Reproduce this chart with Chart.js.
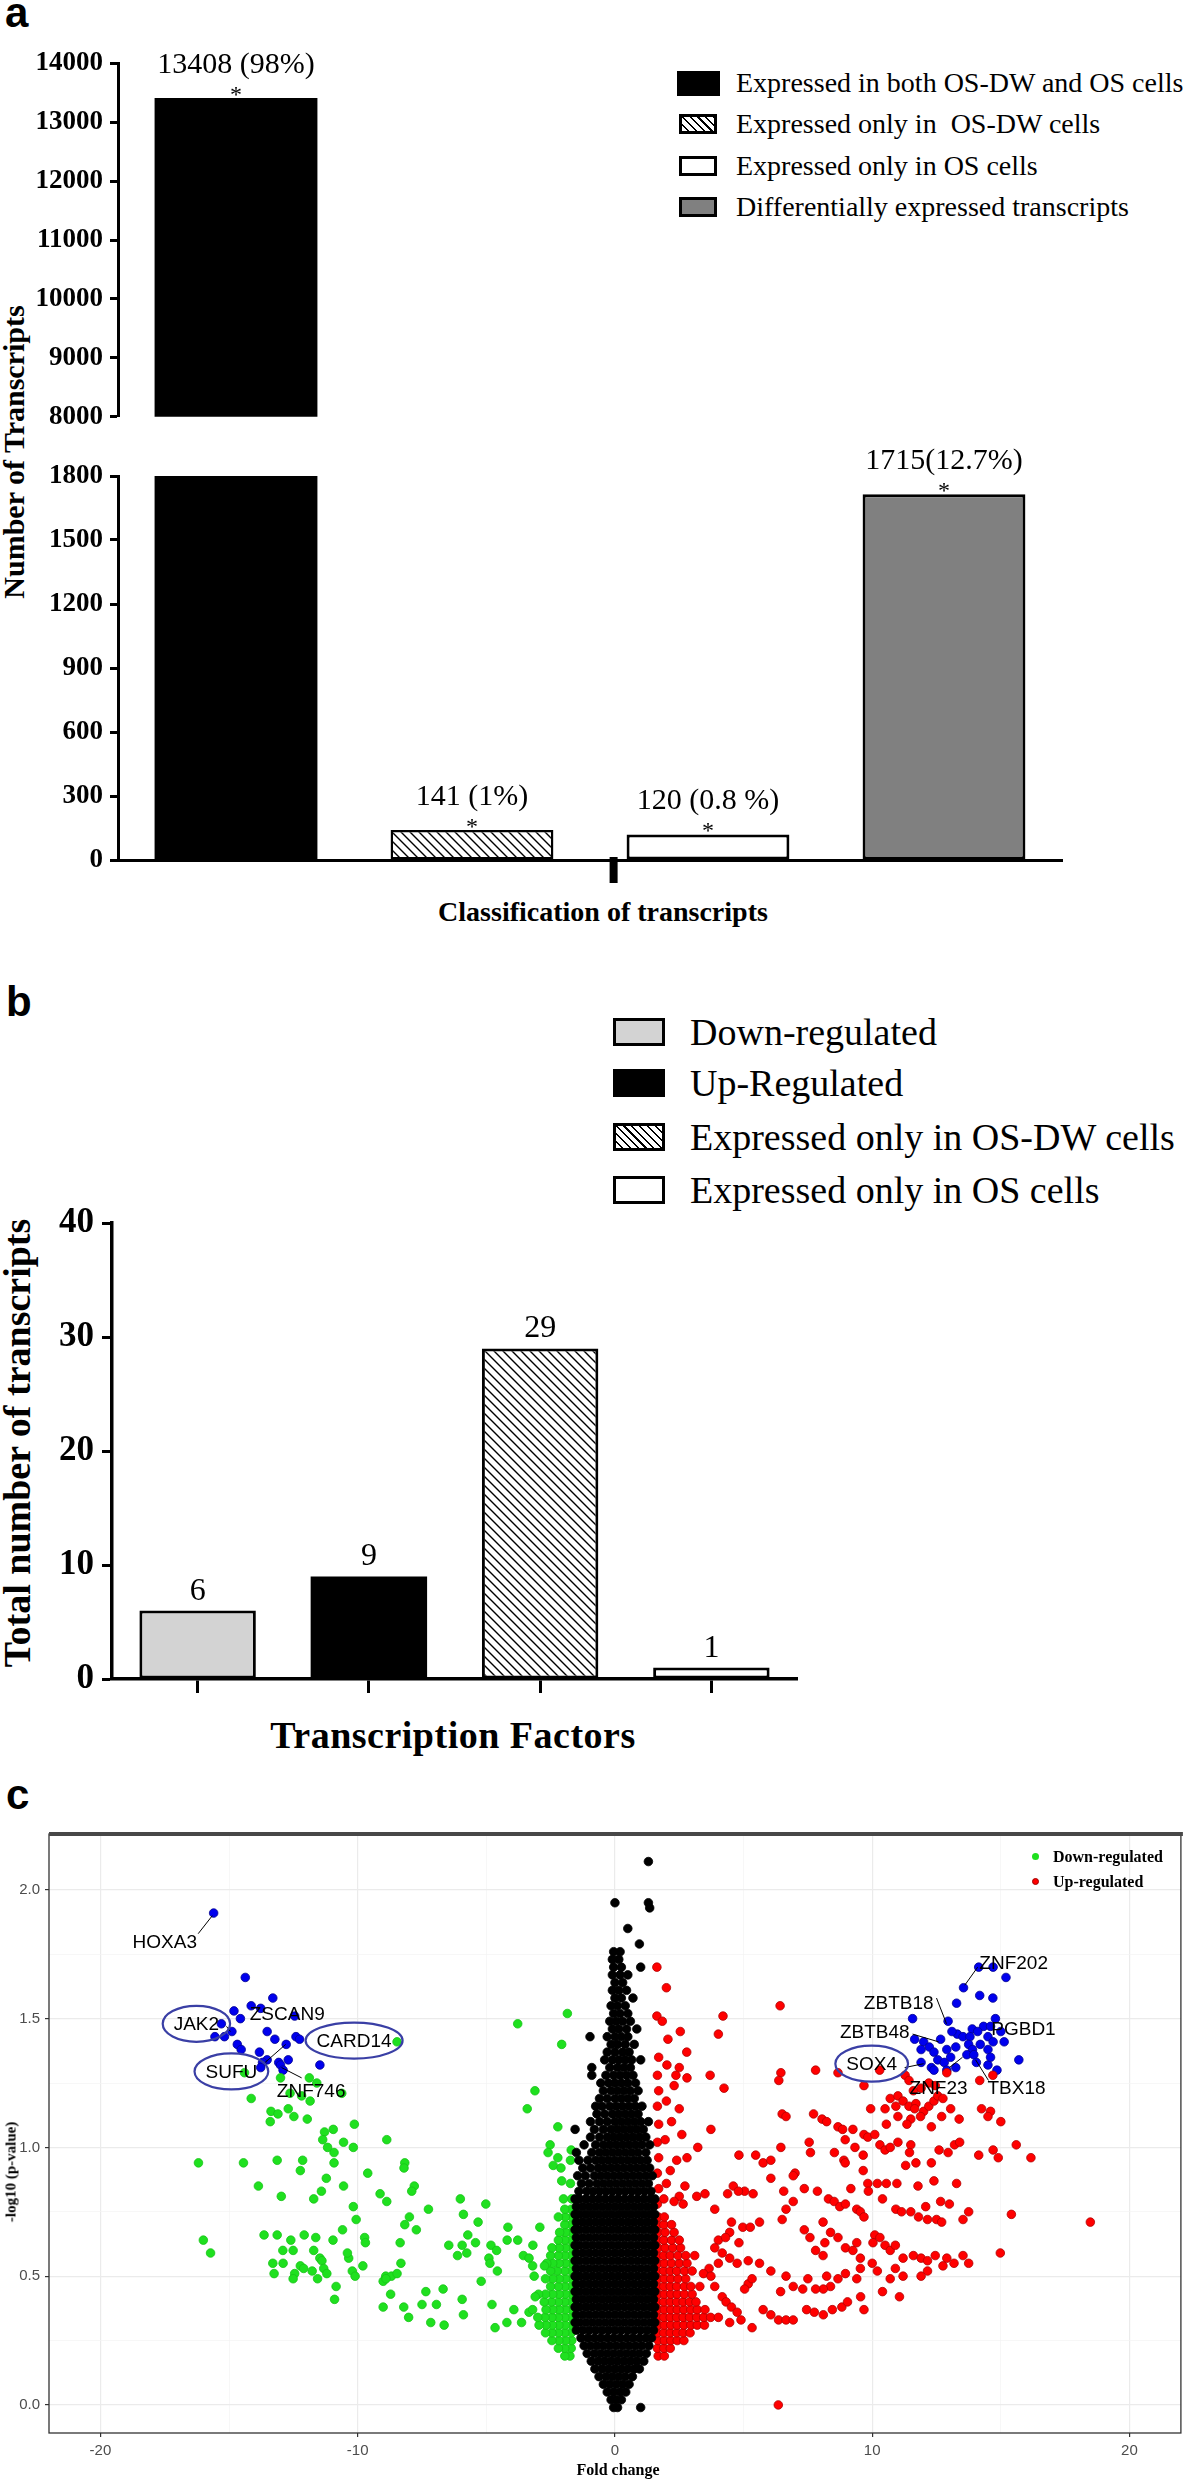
<!DOCTYPE html>
<html lang="en">
<head>
<meta charset="UTF-8">
<title>Transcript classification and volcano plot</title>
<script src="https://cdn.jsdelivr.net/npm/chart.js"></script>
<style>
  html, body { margin: 0; padding: 0; background: #fff; }
  body { position: relative; width: 1186px; height: 2481px; overflow: hidden;
         font-family: "Liberation Serif", "Times New Roman", serif; color: #000; }
  canvas { position: absolute; left: 0; }
  .t { position: absolute; white-space: pre; line-height: 1; }
  .letter { font-family: "Liberation Sans", Arial, sans-serif; font-weight: bold; font-size: 42px; }
  .vtitle { transform: translate(-50%, -50%) rotate(-90deg); font-weight: bold; }
  .ctr { transform: translate(-50%, -50%); }
  .key { position: absolute; box-sizing: border-box; }
  .hatch { background: repeating-linear-gradient(45deg, #fff 0 4px, #000 4px 5.5px); }
  .dot { position: absolute; width: 7px; height: 7px; border-radius: 50%; }
</style>
</head>
<body>
  <!-- panel a -->
  <div class="t letter" style="left:5px;top:-8px">a</div>
  <div class="t vtitle" style="left:14px;top:452px;font-size:30px">Number of Transcripts</div>
  <div class="t ctr" style="left:603px;top:912px;font-size:28px;font-weight:bold">Classification of transcripts</div>

  <div class="key" style="left:677px;top:71px;width:43px;height:25px;background:#000"></div>
  <div class="key hatch" style="left:679px;top:114px;width:38px;height:20px;border:3px solid #000"></div>
  <div class="key" style="left:679px;top:156px;width:38px;height:20px;border:3px solid #000;background:#fff"></div>
  <div class="key" style="left:679px;top:197px;width:38px;height:20px;border:3px solid #000;background:#808080"></div>
  <div class="t" id="legA0" style="left:736px;top:69px;font-size:28px"></div>
  <div class="t" id="legA1" style="left:736px;top:110px;font-size:28px"></div>
  <div class="t" id="legA2" style="left:736px;top:152px;font-size:28px"></div>
  <div class="t" id="legA3" style="left:736px;top:193px;font-size:28px"></div>

  <canvas id="aTop" width="1186" height="400" style="top:40px"></canvas>
  <canvas id="aBottom" width="1186" height="500" style="top:440px"></canvas>

  <!-- panel b -->
  <div class="t letter" style="left:6px;top:981px">b</div>
  <div class="t vtitle" style="left:17px;top:1443px;font-size:38px">Total number of transcripts</div>
  <div class="t ctr" style="left:453px;top:1735px;font-size:38px;font-weight:bold;letter-spacing:0.5px">Transcription Factors</div>

  <div class="key" style="left:613px;top:1018px;width:52px;height:28px;border:3px solid #000;background:#d3d3d3"></div>
  <div class="key" style="left:613px;top:1069px;width:52px;height:28px;background:#000"></div>
  <div class="key hatch" style="left:613px;top:1123px;width:52px;height:28px;border:3px solid #000"></div>
  <div class="key" style="left:613px;top:1176px;width:52px;height:28px;border:3px solid #000;background:#fff"></div>
  <div class="t" id="legB0" style="left:690px;top:1013px;font-size:38px"></div>
  <div class="t" id="legB1" style="left:690px;top:1064px;font-size:38px"></div>
  <div class="t" id="legB2" style="left:690px;top:1118px;font-size:38px"></div>
  <div class="t" id="legB3" style="left:690px;top:1171px;font-size:38px"></div>

  <canvas id="bChart" width="1186" height="560" style="top:1190px"></canvas>

  <!-- panel c -->
  <div class="t letter" style="left:6px;top:1774px">c</div>
  <canvas id="cChart" width="1186" height="661" style="top:1820px"></canvas>
  <div class="t vtitle" style="left:11px;top:2172px;font-size:15px">-log10 (p-value)</div>
  <div class="t ctr" style="left:618px;top:2470px;font-size:16px;font-weight:bold">Fold change</div>
  <div class="dot" style="left:1032px;top:1853px;background:#1fe01f"></div>
  <div class="dot" style="left:1032px;top:1878px;background:#ff0000;border:1px solid #a00000;box-sizing:border-box"></div>
  <div class="t" style="left:1053px;top:1849px;font-size:16px;font-weight:bold">Down-regulated</div>
  <div class="t" style="left:1053px;top:1874px;font-size:16px;font-weight:bold">Up-regulated</div>

<script>
// ---------- data: panel a ----------
const classCategories = ['Expressed in both OS-DW and OS cells', 'Expressed only in  OS-DW cells',
                         'Expressed only in OS cells', 'Differentially expressed transcripts'];
const classCounts = [13408, 141, 120, 1715];
const classLabels = ['13408 (98%)', '141 (1%)', '120 (0.8 %)', '1715(12.7%)'];
const aUpperTicks = [8000, 14000, 1000];   // min, max, step above the break
const aLowerTicks = [0, 1800, 300];        // min, max, step below the break

// ---------- data: panel b ----------
const tfCategories = ['Down-regulated', 'Up-Regulated', 'Expressed only in OS-DW cells', 'Expressed only in OS cells'];
const tfCounts = [6, 9, 29, 1];
const bTicks = [0, 40, 10];

// ---------- data: panel c (fold change, -log10 p) ----------
const cXTicks = [-22, 22, 5];
const cYTicks = [-0.109, 2.217, 0.25];

// not significant, listed row by row: [-log10 p, [fold changes]]
const nsWideA = [-1.5, -1.25, -1.0, -0.75, -0.5, -0.25, 0.0, 0.25, 0.5, 0.75, 1.0, 1.25, 1.5];
const nsWideB = [-1.55, -1.375, -1.125, -0.875, -0.625, -0.375, -0.125, 0.125, 0.375, 0.625, 0.875, 1.125, 1.375, 1.55];
const nsRows = [
  [-0.01, [-0.05, 0.1, 1.0]],
  [0.02, [-0.15, 0.05, 0.25]],
  [0.05, [-0.3, -0.05, 0.2, 0.42]],
  [0.08, [-0.45, -0.2, 0.05, 0.3, 0.55]],
  [0.11, [-0.62, -0.35, -0.1, 0.15, 0.4, 0.68]],
  [0.14, [-0.78, -0.5, -0.25, 0.0, 0.25, 0.5, 0.75, 0.95]],
  [0.17, [-0.92, -0.65, -0.4, -0.15, 0.1, 0.35, 0.6, 0.85, 1.12]],
  [0.20, [-1.08, -0.8, -0.55, -0.3, -0.05, 0.2, 0.45, 0.7, 0.95, 1.22]],
  [0.23, [-1.2, -0.95, -0.7, -0.45, -0.2, 0.05, 0.3, 0.55, 0.8, 1.05, 1.32]],
  [0.26, [-1.32, -1.05, -0.8, -0.55, -0.3, -0.05, 0.2, 0.45, 0.7, 0.95, 1.2, 1.42]],
  [0.29, nsWideA], [0.32, nsWideB], [0.35, nsWideA], [0.38, nsWideB], [0.41, nsWideA], [0.44, nsWideB],
  [0.47, nsWideA], [0.50, nsWideB], [0.53, nsWideA], [0.56, nsWideB], [0.59, nsWideA], [0.62, nsWideB],
  [0.65, nsWideA], [0.68, nsWideB], [0.71, nsWideA], [0.74, nsWideB], [0.77, nsWideA], [0.80, nsWideB],
  [0.83, [-1.4, -1.1, -0.85, -0.6, -0.35, -0.1, 0.15, 0.4, 0.65, 0.9, 1.15, 1.4]],
  [0.86, [-1.3, -1.0, -0.7, -0.45, -0.2, 0.05, 0.3, 0.55, 0.8, 1.05, 1.3]],
  [0.89, [-1.45, -1.15, -0.8, -0.55, -0.3, -0.05, 0.2, 0.45, 0.7, 0.95, 1.2, 1.45]],
  [0.92, [-1.25, -0.95, -0.65, -0.4, -0.15, 0.1, 0.35, 0.6, 0.85, 1.1, 1.35]],
  [0.95, [-1.4, -1.05, -0.75, -0.5, -0.25, 0.0, 0.25, 0.5, 0.75, 1.0, 1.25]],
  [0.98, [-1.5, -0.9, -0.6, -0.35, -0.1, 0.15, 0.4, 0.65, 0.9, 1.2]],
  [1.01, [-1.2, -0.75, -0.45, -0.2, 0.05, 0.3, 0.55, 0.8, 1.05, 1.35]],
  [1.04, [-0.95, -0.6, -0.3, -0.05, 0.2, 0.45, 0.7, 0.95, 1.2]],
  [1.07, [-1.55, -0.8, -0.45, -0.15, 0.1, 0.35, 0.6, 0.85, 1.1]],
  [1.10, [-0.95, -0.6, -0.3, 0.0, 0.25, 0.5, 0.75, 1.0, 1.3]],
  [1.13, [-0.7, -0.4, -0.1, 0.15, 0.4, 0.65, 0.9]],
  [1.16, [-0.75, -0.5, -0.2, 0.05, 0.3, 0.55, 0.8, 1.05]],
  [1.19, [-0.6, -0.3, 0.0, 0.25, 0.5, 0.75]],
  [1.22, [-0.45, -0.15, 0.1, 0.35, 0.6, 0.9]],
  [1.25, [-0.55, -0.25, 0.0, 0.25, 0.5, 0.8]],
  [1.28, [-0.9, -0.35, -0.05, 0.2, 0.45, 0.7]],
  [1.31, [-0.9, -0.2, 0.1, 0.35, 0.6]],
  [1.34, [-0.4, -0.1, 0.15, 0.4, 0.65, 1.0]],
  [1.37, [-0.3, 0.0, 0.3, 0.55]],
  [1.40, [-0.15, 0.1, 0.4, 0.75]],
  [1.43, [-0.97, -0.3, 0.0, 0.25, 0.5]],
  [1.46, [-0.1, 0.15, 0.45, 0.85]],
  [1.49, [-0.2, 0.05, 0.3, 0.6]],
  [1.52, [-0.05, 0.2, 0.5]],
  [1.55, [-0.15, 0.1, 0.4]],
  [1.58, [0.0, 0.25, 0.7]],
  [1.61, [-0.1, 0.15, 0.45]],
  [1.64, [0.0, 0.3]],
  [1.67, [-0.1, 0.2, 0.5]],
  [1.70, [-0.05, 0.25, 1.0]],
  [1.73, [-0.1, 0.15]],
  [1.76, [-0.05, 0.2]],
  [1.79, [0.95]],
  [1.85, [0.5]],
  [1.93, [1.35]],
  [1.95, [0.0, 1.3]],
  [2.11, [1.3]]
];

// down-regulated: dense band next to the centre, then scattered points
const downBandRows = [
  [0.19, [-1.75, -1.95]],
  [0.22, [-1.7, -1.95, -2.2]],
  [0.25, [-1.68, -1.92, -2.18, -2.45]],
  [0.28, [-1.7, -1.95, -2.2, -2.45, -2.7]],
  [0.31, [-1.68, -1.93, -2.18, -2.43, -2.68, -2.95]],
  [0.34, [-1.7, -1.95, -2.2, -2.45, -2.72, -3.0]],
  [0.37, [-1.68, -1.92, -2.17, -2.42, -2.68]],
  [0.40, [-1.7, -1.95, -2.2, -2.47, -2.75]],
  [0.43, [-1.68, -1.92, -2.17, -2.42, -2.7, -2.97]],
  [0.46, [-1.7, -1.95, -2.2, -2.5]],
  [0.49, [-1.68, -1.92, -2.17, -2.42, -2.7]],
  [0.52, [-1.7, -1.95, -2.25, -2.5]],
  [0.55, [-1.68, -1.92, -2.17, -2.42, -2.65]],
  [0.58, [-1.7, -1.95, -2.2, -2.5]],
  [0.61, [-1.68, -1.92, -2.17, -2.45]],
  [0.64, [-1.7, -1.95, -2.2]],
  [0.67, [-1.68, -1.92, -2.15]],
  [0.70, [-1.7, -1.95]],
  [0.73, [-1.68, -1.93, -2.2]],
  [0.76, [-1.7, -1.95]],
  [0.80, [-1.68, -2.0]]
];
const downPts = [
  [-8.47, 1.41], [-3.78, 1.48], [-1.85, 1.52], [-2.07, 1.40], [-3.11, 1.22], [-3.41, 1.15], [-2.22, 1.08],
  [-2.52, 1.01], [-1.7, 0.99], [-2.6, 0.98], [-2.22, 0.96], [-2.4, 0.93], [-2.1, 0.92], [-1.73, 0.95],
  [-2.07, 0.87], [-1.73, 0.86],
  [-14.4, 1.29], [-13.0, 1.27], [-11.88, 1.27], [-11.59, 1.25], [-12.63, 1.21], [-12.18, 1.20], [-11.85, 1.18],
  [-10.62, 1.21], [-14.14, 1.19], [-13.37, 1.14], [-12.7, 1.15], [-13.1, 1.13], [-13.4, 1.10], [-12.48, 1.12],
  [-11.96, 1.11], [-11.29, 1.06], [-10.95, 1.07], [-10.13, 1.09], [-11.36, 1.03], [-11.17, 1.0], [-10.92, 0.98],
  [-10.55, 1.02], [-10.17, 1.0], [-8.87, 1.03],
  [-16.19, 0.94], [-14.44, 0.94], [-13.13, 0.95], [-12.14, 0.95], [-10.92, 0.94], [-12.23, 0.91], [-11.22, 0.88],
  [-9.61, 0.9], [-8.17, 0.94], [-8.2, 0.92], [-13.86, 0.85], [-11.41, 0.83], [-10.55, 0.85], [-7.8, 0.85],
  [-7.9, 0.83], [-9.13, 0.82], [-12.97, 0.81], [-11.71, 0.8], [-8.87, 0.79], [-6.01, 0.8], [-5.02, 0.78],
  [-10.17, 0.77], [-7.25, 0.76], [-10.06, 0.72], [-7.99, 0.73], [-5.89, 0.74], [-5.32, 0.71], [-4.16, 0.69],
  [-2.92, 0.69], [-8.17, 0.7], [-7.72, 0.68], [-10.59, 0.68], [-13.64, 0.66], [-13.13, 0.66], [-16.0, 0.64],
  [-12.08, 0.66], [-12.6, 0.64], [-11.63, 0.65], [-10.96, 0.64], [-9.73, 0.65], [-9.7, 0.63], [-8.35, 0.63],
  [-5.72, 0.66], [-6.46, 0.62], [-5.94, 0.62], [-5.42, 0.63], [-4.82, 0.62], [-4.6, 0.6], [-4.19, 0.64],
  [-3.78, 0.64], [-3.56, 0.58], [-3.19, 0.62],
  [-12.91, 0.6], [-12.51, 0.6], [-11.71, 0.6], [-11.47, 0.57], [-10.35, 0.57], [-10.4, 0.59], [-15.72, 0.59],
  [-6.12, 0.58], [-5.76, 0.59], [-4.9, 0.57], [-4.86, 0.55], [-4.57, 0.52], [-3.34, 0.57], [-3.2, 0.54],
  [-2.74, 0.54],
  [-13.3, 0.55], [-12.9, 0.55], [-13.25, 0.51], [-12.45, 0.51], [-12.23, 0.54], [-12.1, 0.53], [-11.77, 0.52],
  [-11.39, 0.56], [-11.32, 0.53], [-11.2, 0.51], [-11.56, 0.49], [-9.8, 0.54], [-10.21, 0.52], [-10.1, 0.5],
  [-12.51, 0.49], [-8.91, 0.5], [-8.69, 0.5], [-8.47, 0.51], [-9.01, 0.48], [-8.9, 0.49], [-10.84, 0.46],
  [-10.9, 0.41], [-8.72, 0.43], [-9.01, 0.38], [-8.32, 0.55], [-8.21, 0.38], [-8.02, 0.34], [-7.5, 0.39],
  [-7.35, 0.44], [-7.16, 0.32], [-6.94, 0.39], [-6.68, 0.45], [-6.64, 0.31], [-5.94, 0.41], [-5.89, 0.35],
  [-5.2, 0.48], [-4.78, 0.39], [-4.66, 0.3], [-4.2, 0.32], [-3.93, 0.37], [-3.63, 0.32], [-3.34, 0.36],
  [-3.14, 0.5], [-3.1, 0.42], [-3.2, 0.37]
];

// up-regulated: dense band next to the centre, then scattered points
const upBandRows = [
  [0.19, [1.68, 1.92]],
  [0.22, [1.65, 1.9, 2.15]],
  [0.25, [1.68, 1.92, 2.17, 2.42, 2.68]],
  [0.28, [1.65, 1.9, 2.15, 2.4, 2.65, 2.92]],
  [0.31, [1.68, 1.92, 2.17, 2.42, 2.68, 2.95, 3.2, 3.48]],
  [0.34, [1.65, 1.9, 2.15, 2.4, 2.65, 2.9, 3.18, 3.45, 3.72]],
  [0.37, [1.68, 1.92, 2.17, 2.42, 2.68, 2.95, 3.2, 3.5]],
  [0.40, [1.65, 1.9, 2.15, 2.4, 2.65, 2.9, 3.15]],
  [0.43, [1.68, 1.92, 2.17, 2.42, 2.7, 3.0]],
  [0.46, [1.65, 1.9, 2.15, 2.4, 2.7, 2.95, 3.3]],
  [0.49, [1.68, 1.92, 2.17, 2.45, 2.75]],
  [0.52, [1.65, 1.9, 2.15, 2.4, 2.7, 3.0]],
  [0.55, [1.68, 1.92, 2.2, 2.5, 2.8]],
  [0.58, [1.65, 1.9, 2.15, 2.45, 2.75, 3.1]],
  [0.61, [1.68, 1.95, 2.25, 2.55]],
  [0.64, [1.65, 1.9, 2.2, 2.5]],
  [0.67, [1.68, 1.95, 2.3]],
  [0.70, [1.65, 1.9, 2.2]],
  [0.73, [1.68, 1.92]]
];
const upPts = [
  [6.42, 1.55], [4.2, 1.51], [1.63, 1.51], [1.84, 1.49], [4.02, 1.44], [2.54, 1.45], [2.06, 1.42], [2.79, 1.37],
  [2.02, 1.32], [2.5, 1.31], [2.8, 1.27], [2.37, 1.28], [3.7, 1.28], [4.24, 1.23], [6.45, 1.29], [6.37, 1.26],
  [7.8, 1.3], [8.67, 1.29], [9.68, 1.24], [10.29, 1.3], [11.28, 1.28], [11.43, 1.26],
  [10.7, 1.19], [11.0, 1.2], [11.6, 1.22], [11.9, 1.23], [12.2, 1.25], [12.45, 1.24], [12.9, 1.29], [14.18, 1.26],
  [14.69, 1.28],
  [9.94, 1.15], [10.5, 1.15], [10.92, 1.16], [11.2, 1.18], [11.43, 1.16], [11.7, 1.17], [11.65, 1.15], [12.0, 1.14],
  [12.2, 1.16], [12.4, 1.18], [12.55, 1.2], [12.75, 1.19], [13.05, 1.15], [13.38, 1.11], [12.7, 1.12], [12.3, 1.08],
  [11.88, 1.12], [11.5, 1.11], [11.35, 1.09], [11.0, 1.12], [14.25, 1.15], [14.6, 1.14], [14.5, 1.12], [15.0, 1.1],
  [6.5, 1.13], [6.65, 1.12], [7.72, 1.13], [8.05, 1.11], [8.23, 1.1], [8.67, 1.08], [9.25, 1.07], [8.85, 1.07],
  [9.68, 1.05], [9.83, 1.04], [10.1, 1.05], [10.55, 1.09], [3.73, 1.07],
  [3.22, 1.0], [2.8, 0.96], [4.82, 0.97], [5.47, 0.97], [6.45, 1.0], [7.55, 1.02], [7.6, 0.98], [8.53, 0.98],
  [8.9, 0.95], [8.95, 0.94], [9.65, 0.97], [9.65, 0.91], [9.33, 1.0], [8.95, 1.03], [10.3, 1.01], [10.5, 0.99],
  [10.7, 1.0], [11.0, 1.02], [11.5, 1.01], [11.45, 0.98], [11.7, 0.94], [11.3, 0.93], [12.3, 0.94], [12.6, 0.99],
  [12.95, 0.98], [13.2, 1.01], [13.4, 1.02], [14.14, 0.97], [14.7, 0.99], [14.9, 0.96], [15.6, 1.01], [16.17, 0.96],
  [5.76, 0.94], [6.06, 0.95], [6.06, 0.88], [7.0, 0.9], [6.93, 0.89], [7.36, 0.84], [7.87, 0.83], [6.56, 0.83],
  [5.37, 0.82], [5.04, 0.83], [4.6, 0.85], [4.38, 0.82], [4.8, 0.83], [3.88, 0.76], [3.5, 0.82], [3.18, 0.81],
  [2.5, 0.81], [2.65, 0.78], [2.72, 0.85],
  [9.17, 0.84], [9.83, 0.86], [10.2, 0.86], [10.55, 0.86], [10.96, 0.86], [11.78, 0.85], [12.4, 0.87], [13.28, 0.86],
  [9.85, 0.83], [10.4, 0.8], [8.3, 0.8], [8.52, 0.79], [8.74, 0.77], [8.96, 0.78], [9.4, 0.76], [9.54, 0.75],
  [9.68, 0.73],
  [10.92, 0.76], [11.14, 0.75], [11.5, 0.75], [11.8, 0.73], [12.15, 0.72], [12.5, 0.72], [12.7, 0.71], [12.08, 0.77],
  [12.66, 0.79], [13.0, 0.78], [13.75, 0.75], [13.53, 0.72], [15.41, 0.74], [18.48, 0.71], [14.98, 0.59],
  [13.75, 0.55], [13.53, 0.58],
  [6.93, 0.79], [6.65, 0.76], [6.5, 0.72], [4.53, 0.71], [4.97, 0.69], [5.26, 0.69], [5.62, 0.71], [4.46, 0.67],
  [4.82, 0.63], [4.02, 0.64], [4.3, 0.65], [3.88, 0.61], [7.36, 0.68], [7.58, 0.65], [8.09, 0.71], [8.38, 0.67],
  [8.16, 0.63], [7.8, 0.6], [8.09, 0.58], [8.67, 0.65], [8.96, 0.61], [9.25, 0.6], [9.54, 0.57], [9.4, 0.63],
  [10.1, 0.66], [10.3, 0.65], [10.03, 0.63], [10.5, 0.62], [10.7, 0.6], [10.9, 0.62], [11.2, 0.57], [11.6, 0.58],
  [11.9, 0.57], [12.15, 0.56], [12.45, 0.58], [12.9, 0.57], [13.18, 0.55], [12.75, 0.54], [12.15, 0.52], [11.9, 0.5],
  [10.9, 0.53], [11.2, 0.5], [10.7, 0.49], [10.2, 0.52], [10.0, 0.55], [9.54, 0.53], [9.4, 0.49], [8.96, 0.51],
  [8.67, 0.49], [8.23, 0.5], [8.38, 0.46], [8.1, 0.45], [7.5, 0.49], [7.3, 0.45], [7.8, 0.45], [6.65, 0.5],
  [6.93, 0.46], [6.44, 0.44], [6.06, 0.52], [5.62, 0.55], [5.18, 0.56],
  [4.75, 0.55], [5.18, 0.47], [5.33, 0.49], [5.04, 0.45], [4.46, 0.57], [4.17, 0.59], [4.02, 0.55], [3.66, 0.53],
  [3.44, 0.51], [3.73, 0.5], [3.88, 0.46], [4.17, 0.42], [4.32, 0.4], [4.53, 0.38], [4.75, 0.36], [4.9, 0.33],
  [4.46, 0.32], [4.02, 0.34],
  [5.33, 0.3], [5.76, 0.37], [6.06, 0.35], [6.36, 0.33], [6.65, 0.33], [6.93, 0.33], [7.45, 0.37], [7.75, 0.36],
  [8.1, 0.35], [8.45, 0.37], [8.82, 0.38], [9.04, 0.4], [9.55, 0.42], [9.68, 0.37], [10.4, 0.44], [11.06, 0.42],
  [6.35, 0.0], [1.63, 1.70], [2.0, 1.62],
  [1.65, 0.78], [1.9, 0.8], [2.3, 0.79], [1.7, 0.84], [2.0, 0.86], [1.65, 0.9], [2.15, 0.91], [1.7, 0.96],
  [2.4, 0.95], [1.65, 1.02], [1.95, 1.03], [2.6, 1.05], [1.7, 1.09], [2.2, 1.1], [1.65, 1.16], [2.0, 1.18],
  [2.5, 1.15], [1.7, 1.22], [2.3, 1.24], [1.65, 1.28], [1.7, 1.35]
];

// transcription factors (blue)
const tfPts = [
  [-15.6, 1.91], [-14.37, 1.66],
  [-13.3, 1.58], [-14.81, 1.53], [-14.14, 1.55], [-13.77, 1.54], [-14.56, 1.5], [-15.3, 1.48], [-12.45, 1.51],
  [-14.89, 1.45], [-13.52, 1.45], [-15.55, 1.43], [-15.18, 1.43], [-12.4, 1.43], [-12.26, 1.42], [-13.22, 1.42],
  [-14.68, 1.4], [-12.78, 1.4], [-14.53, 1.38], [-13.82, 1.37], [-13.52, 1.34], [-12.7, 1.34], [-13.7, 1.33],
  [-13.07, 1.33], [-13.0, 1.32], [-13.77, 1.31], [-11.47, 1.32], [-12.9, 1.30],
  [13.55, 1.62], [14.14, 1.70], [14.7, 1.70], [15.2, 1.66],
  [13.28, 1.56], [14.18, 1.59], [14.69, 1.58], [11.57, 1.5], [14.79, 1.5], [12.95, 1.49], [14.33, 1.47],
  [13.89, 1.46], [13.31, 1.44], [13.1, 1.45], [13.53, 1.43], [13.8, 1.43], [14.1, 1.45], [14.6, 1.47],
  [14.5, 1.43], [15.0, 1.45], [12.66, 1.42], [12.0, 1.41], [11.65, 1.42], [15.13, 1.41], [14.7, 1.41],
  [14.2, 1.4], [13.75, 1.4], [13.25, 1.39], [12.22, 1.39], [12.9, 1.38], [13.9, 1.38], [11.9, 1.38], [12.4, 1.37],
  [14.5, 1.38], [15.7, 1.34], [11.9, 1.33], [12.55, 1.34], [12.8, 1.33], [13.05, 1.35], [13.68, 1.36],
  [13.95, 1.36], [14.05, 1.33], [14.5, 1.32], [14.85, 1.3], [12.3, 1.31], [12.9, 1.3], [13.25, 1.31],
  [12.4, 1.3], [14.6, 1.35]
];

// gene names: [name, x, y, circled, leader line x1, y1, x2, y2]
const geneTags = [
  ['HOXA3', -17.5, 1.80, false, [-16.2, 1.83, -15.65, 1.9]],
  ['ZSCAN9', -12.74, 1.52, false, null],
  ['JAK2', -16.27, 1.48, true, [-15.1, 1.47, -14.95, 1.45]],
  ['CARD14', -10.14, 1.415, true, null],
  ['SUFU', -14.91, 1.295, true, [-13.6, 1.33, -12.8, 1.4]],
  ['ZNF746', -11.81, 1.22, false, [-12.96, 1.31, -12.18, 1.27]],
  ['ZNF202', 15.5, 1.717, false, [13.6, 1.63, 14.1, 1.7]],
  ['ZBTB18', 11.03, 1.56, false, [12.5, 1.58, 12.89, 1.48]],
  ['PGBD1', 15.88, 1.46, false, null],
  ['ZBTB48', 10.1, 1.45, false, [11.57, 1.44, 12.58, 1.41]],
  ['SOX4', 9.98, 1.325, true, [11.26, 1.31, 12.0, 1.325]],
  ['ZNF23', 12.58, 1.23, false, [13.0, 1.31, 13.51, 1.35]],
  ['TBX18', 15.61, 1.23, false, [14.52, 1.26, 14.02, 1.34]]
];

// ---------- helpers ----------
const serif = '"Liberation Serif", "Times New Roman", serif';
const sans = '"Liberation Sans", Arial, sans-serif';
Chart.defaults.font.family = serif;

classCategories.forEach((c, i) => { document.getElementById('legA' + i).textContent = c; });
tfCategories.forEach((c, i) => { document.getElementById('legB' + i).textContent = c; });

function hatch(s) {
  const c = document.createElement('canvas');
  c.width = c.height = s;
  const g = c.getContext('2d');
  g.fillStyle = '#fff';
  g.fillRect(0, 0, s, s);
  g.strokeStyle = '#000';
  g.lineWidth = 1.4;
  g.beginPath();
  g.moveTo(0, 0); g.lineTo(s, s);
  g.moveTo(s - 2, -2); g.lineTo(s + 2, 2);
  g.moveTo(-2, s - 2); g.lineTo(2, s + 2);
  g.stroke();
  return g.createPattern(c, 'repeat');
}

const rowsToPoints = rows => rows.flatMap(([y, xs]) => xs.map(x => ({ x, y })));
const pairsToPoints = pairs => pairs.map(([x, y]) => ({ x, y }));

// numbers and stars above bars
const barValueLabels = {
  id: 'barValueLabels',
  afterDatasetsDraw(chart, args, opts) {
    if (!opts.texts) return;
    const ctx = chart.ctx;
    const y = chart.scales.y;
    const values = chart.data.datasets[0].data;
    ctx.save();
    ctx.fillStyle = '#000';
    ctx.textAlign = 'center';
    ctx.textBaseline = 'alphabetic';
    chart.getDatasetMeta(0).data.forEach((bar, i) => {
      const v = values[i];
      if (v == null || v > y.max || v < y.min) return;
      ctx.font = opts.font;
      ctx.fillText(opts.texts[i], bar.x, bar.y - opts.gap);
      if (opts.star) {
        ctx.font = opts.starFont;
        ctx.fillText('*', bar.x, bar.y + opts.starGap);
      }
    });
    ctx.restore();
  }
};

// thick mark on the x axis of panel a
const axisBreak = {
  id: 'axisBreak',
  afterDraw(chart, args, opts) {
    if (opts.at == null) return;
    const x = chart.scales.x.getPixelForValue(opts.at);
    const b = chart.chartArea.bottom;
    chart.ctx.save();
    chart.ctx.fillStyle = '#000';
    chart.ctx.fillRect(x - 4, b - 3, 8, 26);
    chart.ctx.restore();
  }
};

// gene names, circles and leader lines
const geneLabelPlugin = {
  id: 'geneLabels',
  afterDatasetsDraw(chart, args, opts) {
    if (!opts.tags) return;
    const { ctx, scales: { x, y } } = chart;
    ctx.save();
    ctx.font = '19px ' + sans;
    ctx.textAlign = 'center';
    ctx.textBaseline = 'middle';
    opts.tags.forEach(([name, tx, ty, circled, lead]) => {
      if (lead) {
        ctx.strokeStyle = '#000';
        ctx.lineWidth = 1;
        ctx.beginPath();
        ctx.moveTo(x.getPixelForValue(lead[0]), y.getPixelForValue(lead[1]));
        ctx.lineTo(x.getPixelForValue(lead[2]), y.getPixelForValue(lead[3]));
        ctx.stroke();
      }
      const px = x.getPixelForValue(tx), py = y.getPixelForValue(ty);
      ctx.fillStyle = '#000';
      ctx.fillText(name, px, py + 1);
      if (circled) {
        const w = ctx.measureText(name).width;
        ctx.strokeStyle = '#3a3fa5';
        ctx.lineWidth = 2.2;
        ctx.beginPath();
        ctx.ellipse(px, py, w / 2 + 11, 18, 0, 0, Math.PI * 2);
        ctx.stroke();
      }
    });
    ctx.restore();
  }
};

// panel border (theme_bw style)
const panelFrame = {
  id: 'panelFrame',
  afterDraw(chart, args, opts) {
    if (!opts.on) return;
    const { ctx, chartArea: a } = chart;
    ctx.save();
    ctx.strokeStyle = '#333';
    ctx.lineWidth = 1.3;
    ctx.strokeRect(a.left, a.top, a.right - a.left, a.bottom - a.top);
    ctx.strokeStyle = '#484848';
    ctx.lineWidth = 4;
    ctx.beginPath();
    ctx.moveTo(a.left, a.top);
    ctx.lineTo(a.right + 2, a.top);
    ctx.stroke();
    ctx.restore();
  }
};

Chart.register(barValueLabels, axisBreak, geneLabelPlugin, panelFrame);

// ---------- panel a ----------
const classFills = ['#000', hatch(9), '#fff', '#808080'];
const classBorders = [0, 2.5, 3, 3];
const aTickFont = { family: serif, size: 27, weight: 'bold' };
const aLabelOpts = { texts: classLabels, font: '30px ' + serif, gap: 25, star: true, starFont: '24px ' + serif, starGap: 4 };

function aYAxis(range) {
  return {
    min: range[0], max: range[1],
    ticks: { stepSize: range[2], font: aTickFont, color: '#000', padding: 7, callback: v => String(v) },
    grid: { drawOnChartArea: false, drawTicks: true, tickLength: 8, tickWidth: 3, tickColor: '#000' },
    border: { display: true, color: '#000', width: 3 },
    afterFit: s => { s.width = 118; }
  };
}

new Chart(document.getElementById('aTop'), {
  type: 'bar',
  data: {
    labels: classCategories,
    datasets: [{
      data: classCounts.map(v => (v >= aUpperTicks[0] ? v : null)),
      backgroundColor: classFills, borderColor: '#000', borderWidth: classBorders,
      borderSkipped: false, barPercentage: 0.69, categoryPercentage: 1
    }]
  },
  options: {
    responsive: false, animation: false, events: [],
    layout: { padding: { top: 20, bottom: 12, left: 0, right: 124 } },
    plugins: { legend: { display: false }, tooltip: { enabled: false }, barValueLabels: aLabelOpts },
    scales: { x: { display: false }, y: aYAxis(aUpperTicks) }
  }
});

new Chart(document.getElementById('aBottom'), {
  type: 'bar',
  data: {
    labels: classCategories,
    datasets: [{
      data: classCounts,
      backgroundColor: classFills, borderColor: '#000', borderWidth: classBorders,
      borderSkipped: false, barPercentage: 0.69, categoryPercentage: 1
    }]
  },
  options: {
    responsive: false, animation: false, events: [],
    layout: { padding: { top: 36, bottom: 79, left: 0, right: 124 } },
    plugins: { legend: { display: false }, tooltip: { enabled: false }, barValueLabels: aLabelOpts, axisBreak: { at: 1.6 } },
    scales: {
      x: {
        grid: { display: false },
        ticks: { display: false },
        border: { display: true, color: '#000', width: 3 },
        afterFit: s => { s.height = 1; }
      },
      y: aYAxis(aLowerTicks)
    }
  }
});

// ---------- panel b ----------
new Chart(document.getElementById('bChart'), {
  type: 'bar',
  data: {
    labels: tfCategories,
    datasets: [{
      data: tfCounts,
      backgroundColor: ['#d3d3d3', '#000', hatch(9), '#fff'],
      borderColor: '#000', borderWidth: [3, 0, 3, 3],
      borderSkipped: false, barPercentage: 0.68, categoryPercentage: 1
    }]
  },
  options: {
    responsive: false, animation: false, events: [],
    layout: { padding: { top: 33, bottom: 0, left: 0, right: 389 } },
    plugins: {
      legend: { display: false }, tooltip: { enabled: false },
      barValueLabels: { texts: tfCounts.map(String), font: '32px ' + serif, gap: 11, star: false }
    },
    scales: {
      x: {
        grid: { drawOnChartArea: false, drawTicks: true, tickLength: 14, tickWidth: 3, tickColor: '#000', offset: false },
        ticks: { callback: () => '' },
        border: { display: true, color: '#000', width: 3.5 },
        afterFit: s => { s.height = 71; }
      },
      y: {
        min: bTicks[0], max: bTicks[1],
        ticks: { stepSize: bTicks[2], font: { family: serif, size: 35, weight: 'bold' }, color: '#000', padding: 8,
                 callback: v => String(v) },
        grid: { drawOnChartArea: false, drawTicks: true, tickLength: 10, tickWidth: 3, tickColor: '#000' },
        border: { display: true, color: '#000', width: 3.5 },
        afterFit: s => { s.width = 112; }
      }
    }
  }
});

// ---------- panel c ----------
const isMajorX = v => Math.abs(v % 10) < 1e-9;
const isMajorY = v => Math.abs(v * 2 - Math.round(v * 2)) < 1e-9;
const cTickFont = { family: sans, size: 15 };

new Chart(document.getElementById('cChart'), {
  type: 'scatter',
  data: {
    datasets: [
      { label: 'not significant', data: rowsToPoints(nsRows), backgroundColor: '#000', borderColor: '#000' },
      { label: 'Down-regulated', data: rowsToPoints(downBandRows).concat(pairsToPoints(downPts)),
        backgroundColor: '#1fe01f', borderColor: '#16c416' },
      { label: 'Up-regulated', data: rowsToPoints(upBandRows).concat(pairsToPoints(upPts)),
        backgroundColor: '#ff0000', borderColor: '#b00000' },
      { label: 'Transcription factors', data: pairsToPoints(tfPts), backgroundColor: '#0000ee', borderColor: '#00008f' }
    ]
  },
  options: {
    responsive: false, animation: false, events: [],
    elements: { point: { radius: 4.3, borderWidth: 0.8 } },
    layout: { padding: { top: 13, right: 3, left: 0, bottom: 0 } },
    plugins: {
      legend: { display: false }, tooltip: { enabled: false },
      geneLabels: { tags: geneTags }, panelFrame: { on: true }
    },
    scales: {
      x: {
        type: 'linear', min: cXTicks[0], max: cXTicks[1],
        ticks: { stepSize: cXTicks[2], includeBounds: false, autoSkip: false, maxRotation: 0,
                 callback: v => (isMajorX(v) ? String(v) : ''), font: cTickFont, color: '#4d4d4d', padding: 5 },
        grid: {
          color: c => (isMajorX(c.tick.value) ? '#ebebeb' : '#f4f4f4'),
          lineWidth: c => (isMajorX(c.tick.value) ? 1.2 : 0.7),
          tickColor: c => (isMajorX(c.tick.value) ? '#333' : 'rgba(0,0,0,0)'),
          tickLength: 4, drawTicks: true
        },
        border: { display: false },
        afterFit: s => { s.height = 48; }
      },
      y: {
        min: cYTicks[0], max: cYTicks[1],
        ticks: { stepSize: cYTicks[2], includeBounds: false, autoSkip: false,
                 callback: v => (isMajorY(v) ? v.toFixed(1) : ''), font: cTickFont, color: '#4d4d4d', padding: 5 },
        grid: {
          color: c => (isMajorY(c.tick.value) ? '#ebebeb' : '#f4f4f4'),
          lineWidth: c => (isMajorY(c.tick.value) ? 1.2 : 0.7),
          tickColor: c => (isMajorY(c.tick.value) ? '#333' : 'rgba(0,0,0,0)'),
          tickLength: 4, drawTicks: true
        },
        border: { display: false },
        afterFit: s => { s.width = 49; }
      }
    }
  }
});
</script>
</body>
</html>
